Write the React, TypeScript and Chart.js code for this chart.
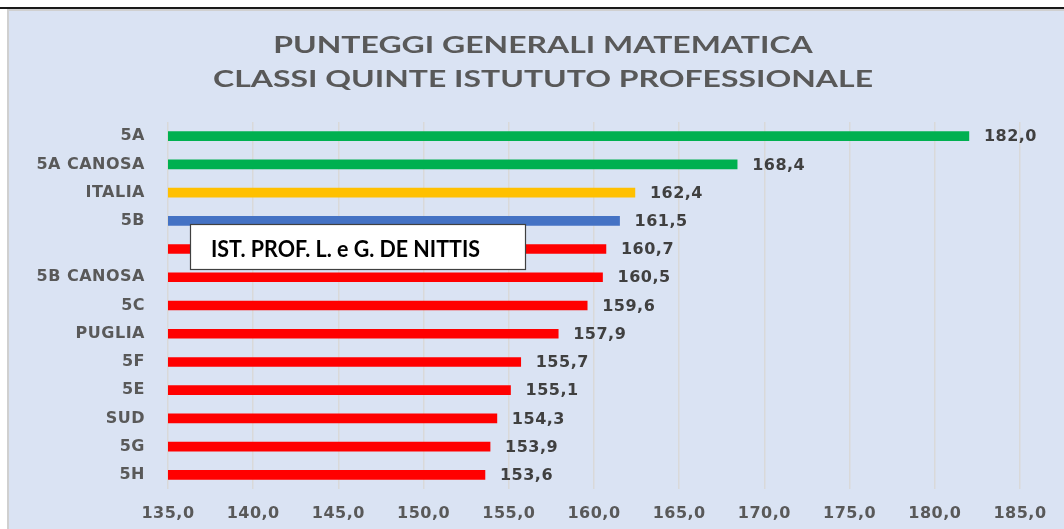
import React, { useEffect, useRef } from 'react';
import { Chart, registerables } from 'chart.js';

Chart.register(...registerables);

const categories = ['5A', '5A CANOSA', 'ITALIA', '5B', '', '5B CANOSA', '5C', 'PUGLIA', '5F', '5E', 'SUD', '5G', '5H'];
const values = [182.0, 168.4, 162.4, 161.5, 160.7, 160.5, 159.6, 157.9, 155.7, 155.1, 154.3, 153.9, 153.6];
const barColors = ['#00B050', '#00B050', '#FFC000', '#4472C4', '#FF0000', '#FF0000', '#FF0000', '#FF0000', '#FF0000', '#FF0000', '#FF0000', '#FF0000', '#FF0000'];
const titleLines = ['PUNTEGGI GENERALI MATEMATICA', 'CLASSI QUINTE ISTUTUTO PROFESSIONALE'];
const boxLabel = 'IST. PROF. L. e G. DE NITTIS';
const xMin = 135;
const xMax = 185;
const xStep = 5;

const fmt = (v: number) => v.toFixed(1).replace('.', ',');
const TICK_FONT = 'DejaVu Sans';
const SPACING = '0.5px';

const bgPlugin = {
  id: 'bgPlugin',
  beforeUpdate(chart: any) {
    chart.ctx.letterSpacing = SPACING;
  },
  beforeLayout(chart: any) {
    chart.ctx.letterSpacing = SPACING;
  },
  beforeDraw(chart: any) {
    const ctx = chart.ctx as CanvasRenderingContext2D;
    const W = chart.width;
    const H = chart.height;
    ctx.save();
    ctx.fillStyle = '#ffffff';
    ctx.fillRect(0, 0, W, H);
    ctx.fillStyle = '#1a1a1a';
    ctx.fillRect(0, 7, W, 2);
    ctx.fillStyle = '#d0d0d0';
    ctx.fillRect(7, 9, W - 7, H - 9);
    ctx.fillStyle = '#DAE3F3';
    ctx.fillRect(9, 11, W - 9, H - 11);
    // title
    ctx.fillStyle = '#595959';
    ctx.font = 'bold 22px Lato';
    ctx.textAlign = 'center';
    ctx.textBaseline = 'middle';
    (ctx as any).letterSpacing = '0px';
    const sx = 660 / ctx.measureText(titleLines[1]).width;
    ctx.save();
    ctx.translate(543, 46);
    ctx.scale(sx, 1);
    ctx.fillText(titleLines[0], 0, 0);
    ctx.restore();
    ctx.save();
    ctx.translate(543, 80);
    ctx.scale(sx, 1);
    ctx.fillText(titleLines[1], 0, 0);
    ctx.restore();
    ctx.restore();
    ctx.letterSpacing = SPACING;
  },
  afterDatasetsDraw(chart: any) {
    const ctx = chart.ctx as CanvasRenderingContext2D;
    const meta = chart.getDatasetMeta(0);
    ctx.save();
    ctx.letterSpacing = SPACING;
    ctx.font = `bold 16px "${TICK_FONT}"`;
    ctx.fillStyle = '#404040';
    ctx.textAlign = 'left';
    ctx.textBaseline = 'middle';
    meta.data.forEach((bar: any, i: number) => {
      ctx.fillText(fmt(values[i]), bar.x + 15, bar.y + 1);
    });
    ctx.restore();
  },
  afterDraw(chart: any) {
    const ctx = chart.ctx as CanvasRenderingContext2D;
    ctx.save();
    ctx.fillStyle = '#ffffff';
    ctx.fillRect(190, 224, 335, 45);
    ctx.strokeStyle = '#404040';
    ctx.lineWidth = 1.2;
    ctx.strokeRect(190.5, 224.5, 335, 45);
    ctx.fillStyle = '#000000';
    ctx.letterSpacing = '0px';
    ctx.font = 'bold 22px Lato';
    ctx.textAlign = 'left';
    ctx.textBaseline = 'middle';
    const w = ctx.measureText(boxLabel).width;
    ctx.translate(211, 250);
    ctx.scale(269 / w, 1);
    ctx.fillText(boxLabel, 0, 0);
    ctx.restore();
    ctx.letterSpacing = SPACING;
  },
};

export default function App() {
  const ref = useRef<HTMLCanvasElement | null>(null);
  useEffect(() => {
    document.body.style.margin = '0';
    const canvas = ref.current!;
    const chart = new Chart(canvas, {
      type: 'bar',
      data: {
        labels: categories,
        datasets: [
          {
            data: values,
            backgroundColor: barColors,
            borderWidth: 0,
            barThickness: 9,
          },
        ],
      },
      options: {
        indexAxis: 'y',
        animation: false,
        responsive: false,
        devicePixelRatio: 1,
        layout: { padding: { top: 122, right: 44, bottom: 0, left: 0 } },
        plugins: {
          legend: { display: false },
          tooltip: { enabled: false },
          title: { display: false },
        },
        scales: {
          x: {
            min: xMin,
            max: xMax,
            border: { display: false },
            grid: { color: '#D9D9D9', lineWidth: 1.5, drawTicks: false },
            afterFit: (s: any) => {
              s.height = 40;
            },
            ticks: {
              stepSize: xStep,
              padding: 15,
              color: '#595959',
              font: { family: TICK_FONT, size: 16, weight: 'bold' },
              callback: (v: any) => fmt(Number(v)),
            },
          },
          y: {
            border: { display: false },
            grid: { display: false, drawTicks: false },
            afterFit: (s: any) => {
              s.width = 168;
            },
            ticks: {
              padding: 23,
              color: '#595959',
              font: { family: TICK_FONT, size: 16, weight: 'bold' },
            },
          },
        },
      },
      plugins: [bgPlugin],
    });
    return () => chart.destroy();
  }, []);
  return <canvas ref={ref} width={1064} height={529} style={{ display: 'block' }} />;
}
